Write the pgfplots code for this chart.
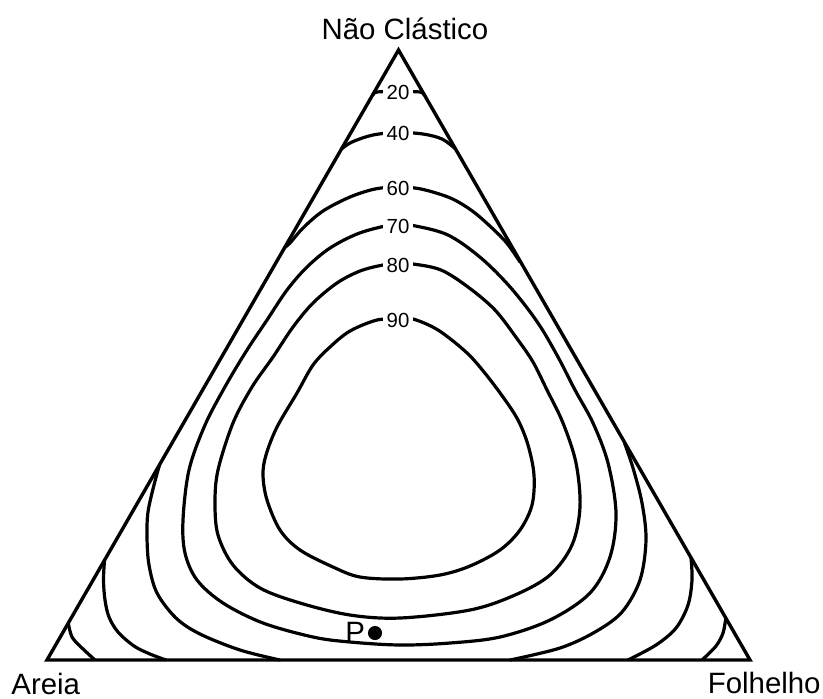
\documentclass[border=0pt]{standalone}
\usepackage{pgfplots}
\pgfplotsset{compat=1.18}
\usepackage{fontspec}
\setmainfont{Liberation Sans}

\begin{document}
\begin{tikzpicture}
\begin{axis}[
  scale only axis,
  width=411.5pt, height=349pt,
  xmin=0, xmax=823, ymin=0, ymax=698,
  y dir=reverse,
  hide axis,
  clip=false,
  every axis plot/.append style={black, no markers},
]
% page frame
\path (axis cs:0,0) rectangle (axis cs:823,698);

% ternary frame
\addplot[line width=1.7pt, line join=miter]
  coordinates {(47,660)(398.5,50)(750,660)(47,660)(398.5,50)};

% contour lines
\pgfplotsset{contour/.style={line width=1.6pt, smooth, tension=0.55}}

% 20
\addplot[contour] coordinates {(373,95)(377,92)(398,91.5)(420,92)(424,95)};
\addplot[contour] coordinates {(68.3,623)(72,637)(82,648)(95,660)};
\addplot[contour] coordinates {(725.8,618)(723,633)(716,646)(702,660)};

% 40
\addplot[contour] coordinates {(341.5,149)(352,142)(373,135)(398,132.5)(423,134)(442,139)(455,148.5)};
\addplot[contour] coordinates {(104.5,560)(103.5,580)(105,600)(109,617)(118,632)(134,646)(150,654)(166,660)};
\addplot[contour] coordinates {(691,558)(692,580)(688,605)(676,628)(656,645)(628,660)};

% 60
\addplot[contour] coordinates {(284,248)(290,243)(303,228)(323,211)(350,197)(375,189)(398,187)(421,189)(448,197)(465,206)(481,218)(505,241)(520,262)};
\addplot[contour] coordinates {(159.5,465)(154,485)(148,512)(147,537)(149,565)(157,593)(176,618)(200,634)(240,650)(280,660)};
\addplot[contour] coordinates {(624.5,443)(633,468)(642,503)(646,540)(640,580)(622,612)(595,632)(560,648)(510,660)};

% 70
\addplot[contour] coordinates {(398,225)(413,225.5)(448,235)(481,258)(511,288)(538,323)(558,357)(575,390)(593,423)(608,463)(616,513)(610,557)(590,593)(550,620)(500,637)(450,643)(400,645)(350,642)(313,637)(263,623)(223,603)(197,580)(185,553)(183,520)(189,470)(205,425)(226,385)(247,350)(267,320)(287,290)(307,267)(330,248)(357,234)(383,226.5)(398,225)};

% 80
\addplot[contour] coordinates {(398,264)(413,264)(441,270)(468,287)(495,310)(518,340)(533,362)(547,390)(563,423)(576,463)(580,507)(572,545)(550,575)(515,595)(470,610)(400,618)(350,615)(300,603)(260,588)(233,565)(218,535)(215,503)(218,470)(233,423)(252,387)(273,357)(293,327)(313,303)(337,283)(360,271)(383,265)(398,264)};

% 90
\addplot[contour] coordinates {(398,319)(413,319)(438,330)(466,352)(484,372)(503,397)(518,420)(528,445)(534,475)(532,505)(520,530)(500,550)(470,566)(440,575)(400,579)(360,577)(333,567)(300,550)(280,530)(267,500)(263,475)(266,455)(277,427)(297,393)(313,365)(330,347)(350,331)(377,320)(398,319)};

% point P
\addplot[only marks, mark=*, mark size=3.3pt] coordinates {(375,633)};

% contour labels
\tikzset{clabel/.style={fill=white, inner sep=1.7pt, font=\fontsize{10.2}{11}\selectfont}}
\node[clabel] at (axis cs:398,92) {20};
\node[clabel] at (axis cs:398,133) {40};
\node[clabel] at (axis cs:398,188) {60};
\node[clabel] at (axis cs:398,226) {70};
\node[clabel] at (axis cs:398,265) {80};
\node[clabel] at (axis cs:398,320) {90};

% vertex and point labels
\tikzset{vlabel/.style={inner sep=0pt, font=\fontsize{14.7}{16}\selectfont}}
\node[vlabel, anchor=base] at (axis cs:405,39) {Não Clástico};
\node[vlabel, anchor=base west] at (axis cs:11,694) {Areia};
\node[vlabel, anchor=base east] at (axis cs:821,693) {Folhelho};
\node[vlabel, anchor=base west] at (axis cs:345,642) {P};
\end{axis}
\end{tikzpicture}
\end{document}
